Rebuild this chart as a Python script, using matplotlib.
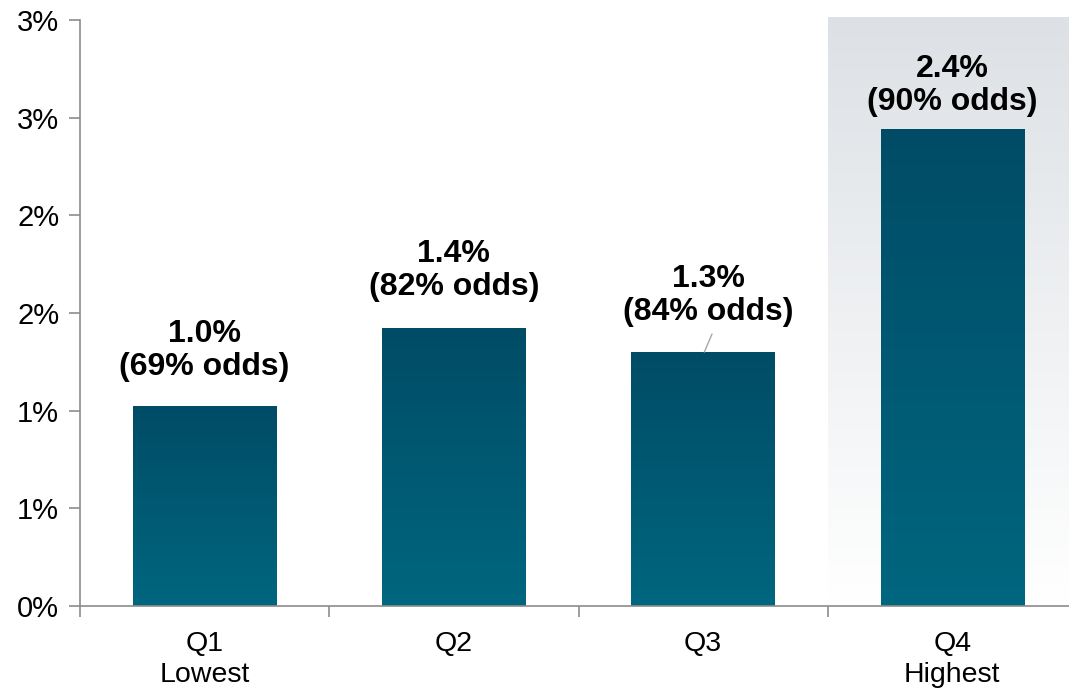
import numpy as np
import matplotlib
matplotlib.use("Agg")
import matplotlib.pyplot as plt
from matplotlib.colors import LinearSegmentedColormap
from matplotlib.ticker import FuncFormatter

plt.rcParams['font.family'] = ['Liberation Sans', 'DejaVu Sans']

categories = ["Q1\nLowest", "Q2", "Q3", "Q4\nHighest"]
values = [1.02, 1.42, 1.30, 2.44]
odds = [69, 82, 84, 90]
yticks = [0, 0.5, 1.0, 1.5, 2.0, 2.5, 3.0]

fig = plt.figure(figsize=(10.69, 6.89), dpi=100)
# axes runs a little past the right edge, so the last category is cut off
ax = fig.add_axes([80 / 1069, 83 / 689, 997 / 1069, 586 / 689])

x = np.arange(len(values))
width = 0.575
ax.set_xlim(-0.5, len(values) - 0.5)
ax.set_ylim(0, 3.0)

# light grey band behind the top quartile
shade = LinearSegmentedColormap.from_list("shade", ["#ffffff", "#dde1e5"])
grad = np.linspace(0, 1, 256).reshape(-1, 1)
ax.imshow(grad, cmap=shade, origin="lower", aspect="auto",
          extent=(2.5, 3.5, 0, 3.015), zorder=0, clip_on=False)

# bars with a vertical teal gradient
teal = LinearSegmentedColormap.from_list("teal", ["#00667f", "#004c66"])
for xi, v in zip(x, values):
    ax.imshow(grad, cmap=teal, origin="lower", aspect="auto",
              extent=(xi - width / 2, xi + width / 2, 0, v), zorder=2)

# label offsets (points) above each bar
offsets = [(0, 18), (0, 19), (4, 18), (0, 9)]
for xi, v, o, off in zip(x, values, odds, offsets):
    ax.annotate(f"{v:.1f}%\n({o}% odds)", xy=(xi, v), xytext=off,
                textcoords="offset points", ha="center", va="bottom",
                fontsize=23, fontweight="bold", linespacing=1.12, zorder=3)

# leader line for Q3 label
ax.annotate("", xy=(2.005, values[2]), xytext=(5.5, 13),
            textcoords="offset points",
            arrowprops=dict(arrowstyle="-", color="#a6a6a6", lw=1,
                            shrinkA=0, shrinkB=0))


def pct(v, pos):
    # round half up, like a spreadsheet would
    return f"{int(np.floor(v + 0.5))}%"


ax.set_xticks(x)
ax.set_xticklabels(categories, fontsize=20.5, linespacing=1.25)
ax.set_xticks(np.arange(len(values) + 1) - 0.5, minor=True)
ax.tick_params(axis="x", which="major", length=0, pad=18)
ax.tick_params(axis="x", which="minor", length=8, color="#8c8c8c", width=1.2)

ax.set_yticks(yticks)
ax.yaxis.set_major_formatter(FuncFormatter(pct))
ax.tick_params(axis="y", length=8, color="#8c8c8c", width=1.2, labelsize=21, pad=7)

for s in ["top", "right"]:
    ax.spines[s].set_visible(False)
for s in ["left", "bottom"]:
    ax.spines[s].set_color("#8c8c8c")
    ax.spines[s].set_linewidth(1.2)

fig.savefig("out.png", dpi=100)
